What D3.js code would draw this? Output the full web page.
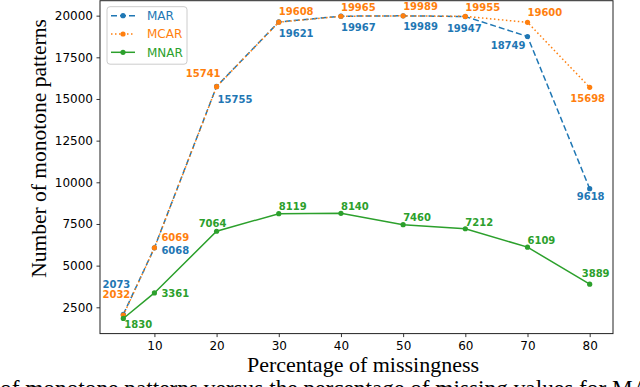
<!DOCTYPE html>
<html lang="en">
<head>
  <meta charset="utf-8">
  <title>Monotone patterns vs missingness</title>
  <style type="text/css">
    body { margin: 0; background: #fff; overflow: hidden; }
    svg { display: block; }
    .tick text { font-family: "DejaVu Sans", sans-serif; font-size: 12px; fill: #000; }
    .serif { font-family: "Liberation Serif", "DejaVu Serif", serif; fill: #000; }
    .ann { font-family: "DejaVu Sans", sans-serif; font-size: 10px; font-weight: bold; }
  </style>
</head>
<body>
  <div id="graphic"></div>

  <script src="https://cdn.jsdelivr.net/npm/d3@7/dist/d3.min.js"></script>
  <script>
    // data
    var missing = [5, 10, 20, 30, 40, 50, 60, 70, 80];
    var marValues  = [2073, 6068, 15755, 19621, 19967, 19989, 19947, 18749, 9618];
    var mcarValues = [2032, 6069, 15741, 19608, 19965, 19989, 19955, 19600, 15698];
    var mnarValues = [1830, 3361, 7064, 8119, 8140, 7460, 7212, 6109, 3889];
    var xTicks = [10, 20, 30, 40, 50, 60, 70, 80];
    var yTicks = [2500, 5000, 7500, 10000, 12500, 15000, 17500, 20000];

    // label placement for each annotation: [anchor, dx, dy]
    var marLabelPos = [['end',7,-30],['start',7,3],['start',1,13],['start',0,11],['start',0,11],['start',0,11],['middle',-1,12],['end',-2,9],['middle',1,8]];
    var mcarLabelPos = [['end',7,-21],['start',7,-10],['end',4,-13],['start',0,-10.5],['start',0,-9],['start',0,-9],['start',0,-9],['start',0,-10],['middle',-2,11]];
    var mnarLabelPos = [['start',1,5.5],['start',7,0],['middle',-4,-8],['start',0,-7.5],['start',0,-7],['start',0,-7],['start',0,-6.5],['start',0,-7],['middle',6,-11]];

    var series = [
      {name: 'MAR',  values: marValues,  colour: '#1f77b4', dash: '6,3',     labels: marLabelPos},
      {name: 'MCAR', values: mcarValues, colour: '#ff7f0e', dash: '1.5,2.5', labels: mcarLabelPos},
      {name: 'MNAR', values: mnarValues, colour: '#2ca02c', dash: null,      labels: mnarLabelPos}
    ];

    var width = 640, height = 387;
    var margin = {top: 0.7, right: 27, bottom: 53.4, left: 100};

    var svg = d3.select('#graphic').append('svg')
      .attr('width', width)
      .attr('height', height);

    var x = d3.scaleLinear()
      .domain([1.25, 83.75])
      .range([margin.left, width - margin.right]);

    var y = d3.scaleLinear()
      .domain([922, 20897])
      .range([height - margin.bottom, margin.top]);

    // axes
    svg.append('g')
      .attr('transform', 'translate(0,' + (height - margin.bottom) + ')')
      .call(d3.axisBottom(x).tickValues(xTicks).tickSize(3.5).tickPadding(4.5).tickFormat(d3.format('d')));
    svg.append('g')
      .attr('transform', 'translate(' + margin.left + ',0)')
      .call(d3.axisLeft(y).tickValues(yTicks).tickSize(3.5).tickPadding(3.5).tickFormat(d3.format('d')));
    svg.selectAll('.domain').remove();
    svg.selectAll('.tick line').attr('stroke', '#000').attr('stroke-width', 0.8);

    // frame
    svg.append('rect')
      .attr('x', margin.left)
      .attr('y', margin.top)
      .attr('width', width - margin.right - margin.left)
      .attr('height', height - margin.bottom - margin.top)
      .attr('fill', 'none')
      .attr('stroke', '#222')
      .attr('stroke-width', 1);

    var line = d3.line()
      .x(function(d, i){ return x(missing[i]); })
      .y(function(d){ return y(d); });

    series.forEach(function(s){
      var g = svg.append('g');
      g.append('path')
        .attr('d', line(s.values))
        .attr('fill', 'none')
        .attr('stroke', s.colour)
        .attr('stroke-width', 1.5)
        .attr('stroke-dasharray', s.dash);
      g.selectAll('circle')
        .data(s.values)
        .enter()
        .append('circle')
          .attr('cx', function(d, i){ return x(missing[i]); })
          .attr('cy', function(d){ return y(d); })
          .attr('r', 2.6)
          .attr('fill', s.colour);
    });

    // value labels
    series.forEach(function(s){
      svg.append('g').selectAll('text')
        .data(s.values)
        .enter()
        .append('text')
          .attr('class', 'ann')
          .attr('x', function(d, i){ return x(missing[i]) + s.labels[i][1]; })
          .attr('y', function(d, i){ return y(d) + s.labels[i][2]; })
          .attr('text-anchor', function(d, i){ return s.labels[i][0]; })
          .attr('dy', '0.36em')
          .attr('fill', s.colour)
          .text(function(d){ return d; });
    });

    // legend
    var legend = svg.append('g').attr('transform', 'translate(107,6.7)');
    legend.append('rect')
      .attr('width', 80)
      .attr('height', 57.5)
      .attr('rx', 3)
      .attr('fill', '#fff')
      .attr('fill-opacity', 0.8)
      .attr('stroke', '#ccc')
      .attr('stroke-width', 1);
    series.forEach(function(s, i){
      var row = legend.append('g').attr('transform', 'translate(0,' + (9 + i * 18.3) + ')');
      row.append('line')
        .attr('x1', 4).attr('x2', 28)
        .attr('stroke', s.colour)
        .attr('stroke-width', 1.5)
        .attr('stroke-dasharray', s.dash);
      row.append('circle').attr('cx', 16).attr('r', 2.6).attr('fill', s.colour);
      row.append('text')
        .attr('x', 40)
        .attr('dy', '0.36em')
        .attr('fill', s.colour)
        .style('font-family', '"DejaVu Sans", sans-serif')
        .style('font-size', '12px')
        .text(s.name);
    });

    // axis titles
    svg.append('text')
      .attr('class', 'serif')
      .attr('transform', 'translate(46,148.5) rotate(-90)')
      .attr('text-anchor', 'middle')
      .style('font-size', '21.5px')
      .text('Number of monotone patterns');

    svg.append('text')
      .attr('class', 'serif')
      .attr('x', 363)
      .attr('y', 372)
      .attr('text-anchor', 'middle')
      .style('font-size', '22px')
      .text('Percentage of missingness');

    // figure caption, cut off by the crop
    svg.append('text')
      .attr('class', 'serif')
      .attr('x', 0)
      .attr('y', 396)
      .style('font-size', '23.3px')
      .text('of monotone patterns versus the percentage of missing values for MAR');
  </script>
</body>
</html>
